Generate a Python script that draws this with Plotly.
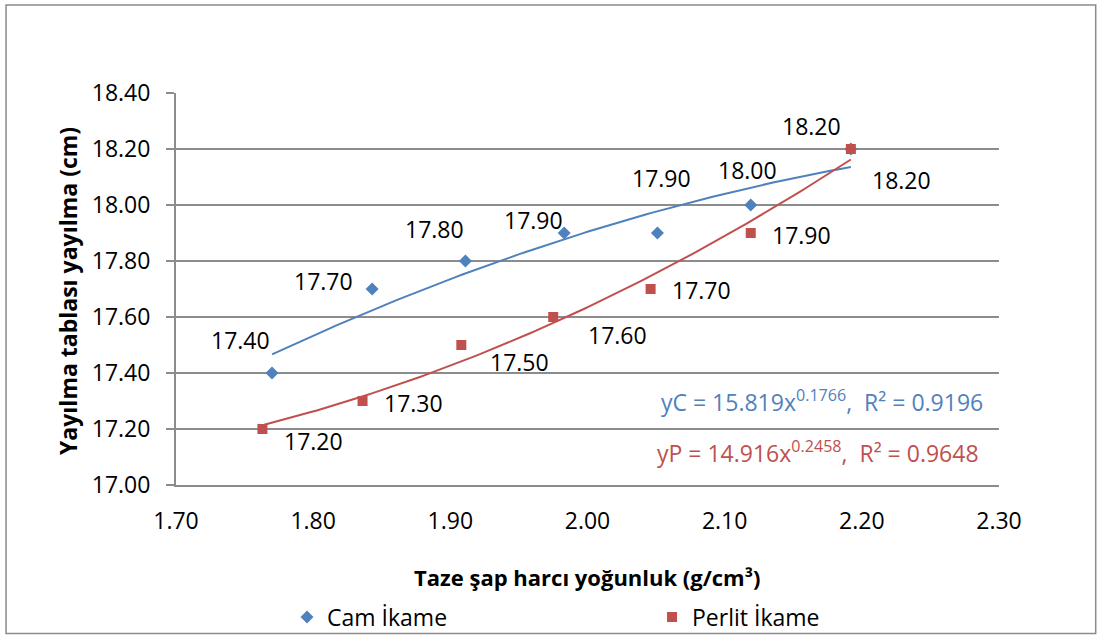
import numpy as np
import plotly.graph_objects as go

# ---- data ----
cam_x = [1.770, 1.843, 1.911, 1.983, 2.051, 2.119, 2.192]
cam_y = [17.40, 17.70, 17.80, 17.90, 17.90, 18.00, 18.20]
perlit_x = [1.763, 1.836, 1.908, 1.975, 2.046, 2.119, 2.192]
perlit_y = [17.20, 17.30, 17.50, 17.60, 17.70, 17.90, 18.20]
cam_name = "Cam İkame"
perlit_name = "Perlit İkame"
eq_cam = "yC = 15.819x<sup>0.1766</sup>,  R² = 0.9196"
eq_perlit = "yP = 14.916x<sup>0.2458</sup>,  R² = 0.9648"
x_title = "Taze şap harcı yoğunluk (g/cm³)"
y_title = "Yayılma tablası yayılma (cm)"

# ---- label offsets (px, style only) ----
cam_off = [(-32, 33), (-49, 8), (-31, 32), (-31, 13), (4, 55), (-3, 35), (-39, 23)]
perlit_off = [(51, -12), (51, -2), (58, -17), (64, -18), (51, -1), (51, -2), (51, -31)]

BLUE = "#4F81BD"
RED = "#C0504D"
FONT = "Open Sans"
FS = 23
GRID = "#8C8C8C"


def trend(xs, ys):
    coef = np.polyfit(xs, ys, 2)
    xx = np.linspace(min(xs), max(xs), 120)
    return xx, np.polyval(coef, xx)


fig = go.Figure()

for xs, ys, col in [(cam_x, cam_y, BLUE), (perlit_x, perlit_y, RED)]:
    tx, ty = trend(xs, ys)
    fig.add_trace(go.Scatter(x=tx, y=ty, mode="lines", line=dict(color=col, width=2),
                             showlegend=False, hoverinfo="skip"))

fig.add_trace(go.Scatter(x=cam_x, y=cam_y, mode="markers", name=cam_name,
                         marker=dict(symbol="diamond", size=10, color=BLUE)))
fig.add_trace(go.Scatter(x=perlit_x, y=perlit_y, mode="markers", name=perlit_name,
                         marker=dict(symbol="square", size=10, color=RED)))

ann = []
for xs, ys, offs in [(cam_x, cam_y, cam_off), (perlit_x, perlit_y, perlit_off)]:
    for x, y, (dx, dy) in zip(xs, ys, offs):
        ann.append(dict(x=x, y=y, xref="x", yref="y", text=f"{y:.2f}", showarrow=False,
                        xshift=dx, yshift=dy, font=dict(family=FONT, size=FS, color="black")))

ann.append(dict(x=0.983, y=0.214, xref="paper", yref="paper", text=eq_cam, showarrow=False,
                xanchor="right", yanchor="middle", font=dict(family=FONT, size=FS, color=BLUE)))
ann.append(dict(x=0.978, y=0.084, xref="paper", yref="paper", text=eq_perlit, showarrow=False,
                xanchor="right", yanchor="middle", font=dict(family=FONT, size=FS, color=RED)))
ann.append(dict(x=0.5, y=-0.235, xref="paper", yref="paper", text=f"<b>{x_title}</b>",
                showarrow=False, xanchor="center", yanchor="middle",
                font=dict(family=FONT, size=22, color="black")))
ann.append(dict(x=-0.1312, y=0.495, xref="paper", yref="paper", text=f"<b>{y_title}</b>",
                showarrow=False, textangle=-90, xanchor="center", yanchor="middle",
                font=dict(family=FONT, size=FS, color="black")))

fig.update_layout(
    width=1103, height=637,
    margin=dict(l=176, r=104, t=93, b=152, autoexpand=False),
    paper_bgcolor="white", plot_bgcolor="white",
    font=dict(family=FONT, size=FS, color="black"),
    annotations=ann,
    showlegend=True,
    legend=dict(orientation="h", x=0.1349, y=-0.3367, xanchor="left", yanchor="middle",
                entrywidth=320, entrywidthmode="pixels", font=dict(family=FONT, size=FS),
                bgcolor="rgba(0,0,0,0)"),
    shapes=[dict(type="rect", xref="paper", yref="paper", x0=-0.2065, x1=1.1175,
                 y0=-0.379, y1=1.2245, line=dict(color="#8A8A8A", width=1.5), layer="below")],
    xaxis=dict(range=[1.70, 2.30], dtick=0.1, tick0=1.70, tickformat=".2f", showgrid=False,
               zeroline=False, showline=True, linecolor=GRID, linewidth=2, ticks="",
               ticklabelstandoff=14, fixedrange=True),
    yaxis=dict(range=[17.00, 18.40], dtick=0.2, tick0=17.0, tickformat=".2f", showgrid=True,
               gridcolor=GRID, gridwidth=2, zeroline=False, showline=True, linecolor=GRID,
               linewidth=2, ticks="outside", ticklen=8, tickcolor=GRID, tickwidth=2,
               ticklabelstandoff=11, fixedrange=True),
)

fig.write_html("out.html")
